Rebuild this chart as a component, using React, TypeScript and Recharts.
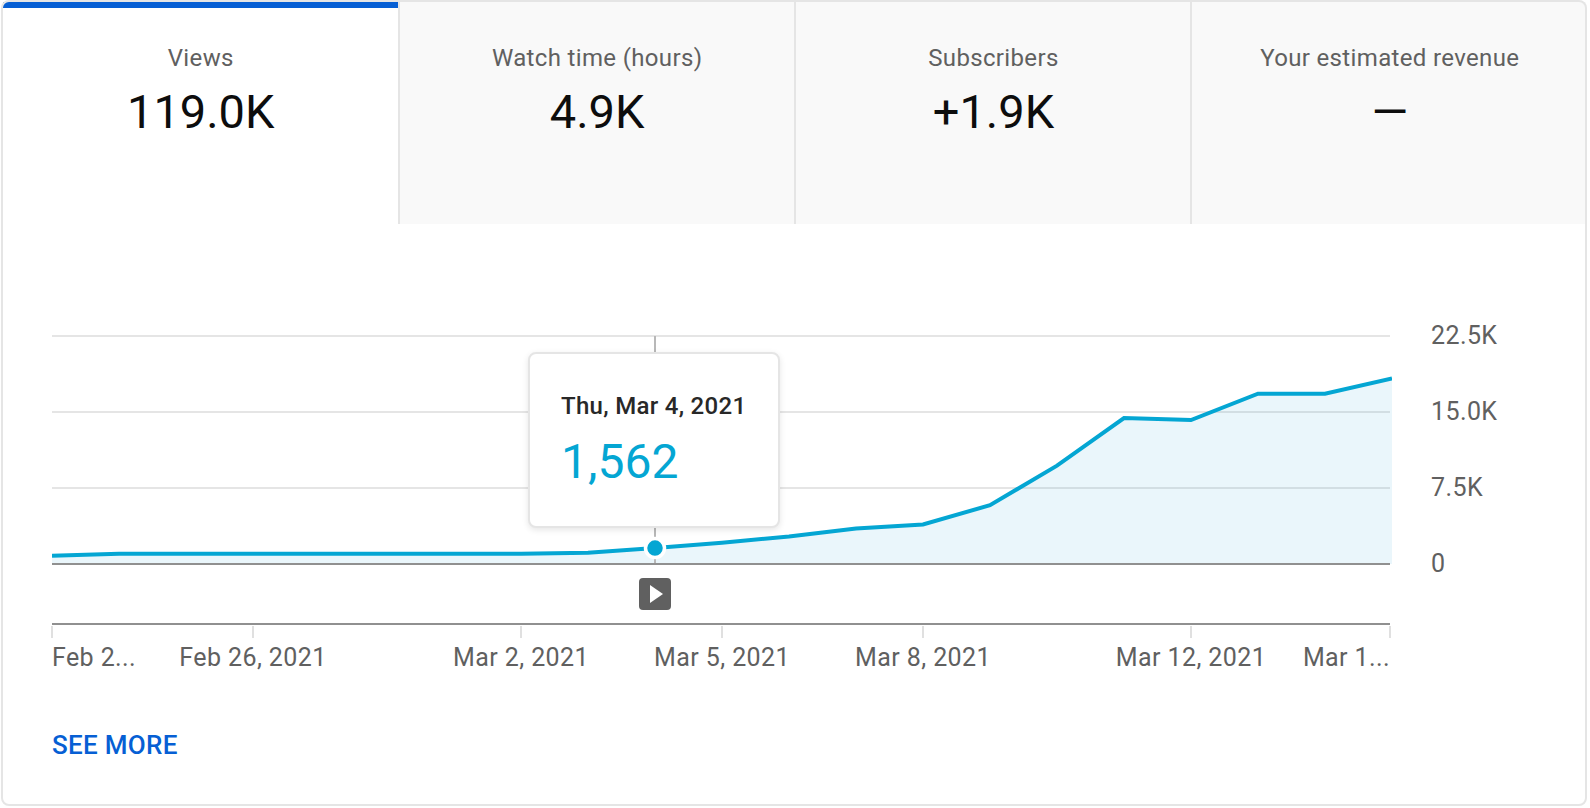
import { Area, AreaChart, CartesianGrid, ReferenceDot, ReferenceLine, Tooltip, XAxis, YAxis } from "recharts"

const dates = [
  "Feb 23", "Feb 24", "Feb 25", "Feb 26", "Feb 27", "Feb 28", "Mar 1", "Mar 2", "Mar 3", "Mar 4", "Mar 5",
  "Mar 6", "Mar 7", "Mar 8", "Mar 9", "Mar 10", "Mar 11", "Mar 12", "Mar 13", "Mar 14", "Mar 15",
]
const views = [
  800, 1000, 1000, 1000, 1000, 1000, 1000, 1000, 1100, 1562, 2100,
  2700, 3500, 3900, 5800, 9700, 14400, 14200, 16800, 16800, 18300,
]
const data = dates.map((date, i) => ({ date, views: views[i] }))

const yTicks = [0, 7500, 15000, 22500]
const yLabels = ["0", "7.5K", "15.0K", "22.5K"]
const xTicks = ["Feb 23", "Feb 26", "Mar 2", "Mar 5", "Mar 8", "Mar 12", "Mar 15"]
const xLabels = ["Feb 2...", "Feb 26, 2021", "Mar 2, 2021", "Mar 5, 2021", "Mar 8, 2021", "Mar 12, 2021", "Mar 1..."]

const tabs = [
  { title: "Views", value: "119.0K" },
  { title: "Watch time (hours)", value: "4.9K" },
  { title: "Subscribers", value: "+1.9K" },
  { title: "Your estimated revenue", value: "—" },
]

const font = "Roboto, sans-serif"
const blue = "#065fd4"
const line = "#04a6d3"
const grey = "#606060"

// the last day sits 2px past the plot edge in the original, so its tick is pulled back
function XTick({ x, y, payload, index }: any) {
  const last = index === xTicks.length - 1
  const first = index === 0
  const tx = last ? x - 2 : x
  const anchor = first ? "start" : last ? "end" : "middle"
  return (
    <g>
      <line x1={tx} x2={tx} y1={y - 12} y2={y} stroke="#e0e0e0" strokeWidth={2} />
      <text x={tx} y={y + 28} textAnchor={anchor} fontSize={25} letterSpacing={0.4} fontFamily={font} fill={grey}>
        {xLabels[xTicks.indexOf(payload.value)]}
      </text>
    </g>
  )
}

function PlayIcon({ cx, cy }: any) {
  return (
    <g>
      <rect x={cx - 16} y={cy - 16} width={32} height={32} rx={4} fill={grey} />
      <path d={`M${cx - 5} ${cy - 9}L${cx + 8} ${cy}L${cx - 5} ${cy + 9}Z`} fill="#fff" />
    </g>
  )
}

function TipBox() {
  return (
    <div
      style={{
        width: 252,
        height: 176,
        boxSizing: "border-box",
        background: "#fff",
        border: "2px solid #e5e5e5",
        borderRadius: 8,
        boxShadow: "0 2px 6px rgba(0,0,0,0.1)",
        fontFamily: font,
        position: "relative",
      }}
    >
      <div style={{ position: "absolute", left: 31, top: 38, fontSize: 24, letterSpacing: 0.3, fontWeight: 500, color: "#282828", whiteSpace: "nowrap" }}>
        Thu, Mar 4, 2021
      </div>
      <div style={{ position: "absolute", left: 31, top: 78, fontSize: 48, color: line, lineHeight: "60px" }}>1,562</div>
    </div>
  )
}

export default function App() {
  return (
    <div style={{ position: "absolute", left: 0, top: 0, width: 1590, height: 808, background: "#fff", fontFamily: font }}>
      {tabs.map((t, i) => (
        <div
          key={t.title}
          style={{
            position: "absolute",
            left: i === 0 ? 3 : 397.5 + (i - 1) * 396.3,
            top: 2,
            width: i === 0 ? 394.5 : 396.3,
            height: 222,
            boxSizing: "border-box",
            background: i === 0 ? "#fff" : "#f9f9f9",
            borderTop: i === 0 ? `6px solid ${blue}` : "none",
            borderLeft: i === 0 ? "none" : "2px solid #e5e5e5",
            textAlign: "center",
          }}
        >
          <div style={{ position: "absolute", left: 1, right: 0, top: i === 0 ? 35 : 41, fontSize: 24, letterSpacing: 0.35, color: grey, lineHeight: "30px" }}>
            {t.title}
          </div>
          <div style={{ position: "absolute", left: 1, right: 0, top: i === 0 ? 74 : 80, fontSize: 47, color: "#0d0d0d", lineHeight: "60px" }}>
            {t.value}
          </div>
        </div>
      ))}
      <div
        style={{
          position: "absolute",
          left: 1,
          top: 0,
          width: 1586,
          height: 806,
          boxSizing: "border-box",
          border: "2px solid #e5e5e5",
          borderRadius: 8,
          pointerEvents: "none",
        }}
      />
      <div style={{ position: "absolute", left: 0, top: 0 }}>
        <AreaChart width={1590} height={808} data={data} margin={{ top: 336, right: 0, left: 52, bottom: 0 }}>
          <CartesianGrid vertical={false} stroke="#e5e5e5" strokeWidth={2} />
          <XAxis
            type="category"
            dataKey="date"
            ticks={xTicks}
            interval={0}
            height={184}
            tickSize={12}
            padding={{ left: 0, right: -2 }}
            allowDataOverflow
            tickLine={false}
            axisLine={{ stroke: "#909090", strokeWidth: 2 }}
            tick={<XTick />}
          />
          <YAxis
            orientation="right"
            width={200}
            domain={[-5929, 22500]}
            ticks={yTicks}
            interval={0}
            allowDataOverflow
            tickLine={false}
            axisLine={false}
            tickMargin={35}
            tickFormatter={(v: number) => yLabels[yTicks.indexOf(v)]}
            tick={{ fontSize: 25, letterSpacing: 0.4, fontFamily: font, fill: grey, textAnchor: "start", dy: -0.5 }}
          />
          <ReferenceLine
            segment={[
              { x: "Mar 4", y: 0 },
              { x: "Mar 4", y: 22500 },
            ]}
            stroke="#b8b8b8"
            strokeWidth={2}
          />
          <Area
            type="linear"
            dataKey="views"
            baseValue={0}
            stroke={line}
            strokeWidth={4}
            fill="#1a9ad6"
            fillOpacity={0.09}
            dot={false}
            activeDot={{ r: 9.5, fill: line, stroke: "#fff", strokeWidth: 3.5 }}
            isAnimationActive={false}
          />
          <ReferenceLine y={0} stroke="#909090" strokeWidth={2} />
          <ReferenceDot x="Mar 4" y={-2964} shape={<PlayIcon />} />
          <Tooltip
            active
            defaultIndex={9}
            position={{ x: 528, y: 352 }}
            content={<TipBox />}
            cursor={false}
            isAnimationActive={false}
            allowEscapeViewBox={{ x: true, y: true }}
          />
        </AreaChart>
      </div>
      <div style={{ position: "absolute", left: 52, top: 730, fontSize: 26, letterSpacing: 0.3, fontWeight: 500, color: blue, lineHeight: "30px" }}>SEE MORE</div>
    </div>
  )
}
